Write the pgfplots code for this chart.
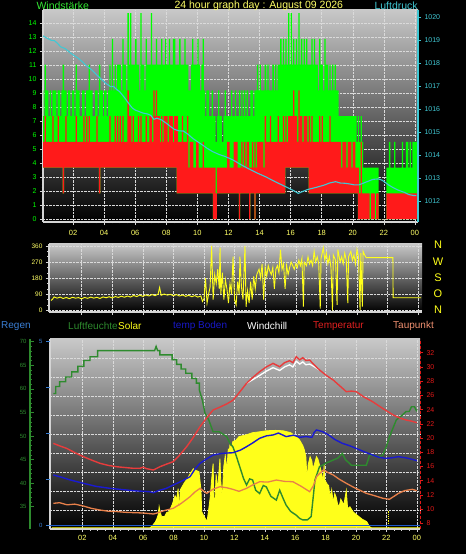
\documentclass[border=0pt]{standalone}
\usepackage{fontspec}
\setmainfont{Liberation Sans}
\usepackage{pgfplots}
\pgfplotsset{compat=1.18}
\usepgfplotslibrary{fillbetween}
\usepackage{pgfplotstable}
\pagecolor{black}

\definecolor{windg}{HTML}{00FF00}
\definecolor{windr}{HTML}{FF1A1A}
\definecolor{titleg}{HTML}{33E633}
\definecolor{press}{HTML}{40C8D4}
\definecolor{ttl}{HTML}{FFFF66}
\definecolor{dirc}{HTML}{FFFF1A}
\definecolor{humc}{HTML}{2E8B2E}
\definecolor{tempc}{HTML}{E83C3C}
\definecolor{bodenc}{HTML}{1A1AD0}
\definecolor{taupc}{HTML}{E8804A}
\definecolor{regenc}{HTML}{3A7FD5}
\definecolor{regenl}{HTML}{1E5AC8}
\definecolor{framec}{HTML}{D4D4D4}
\definecolor{gridc}{HTML}{DADADA}
\definecolor{bgtop}{HTML}{C8C8C8}
\definecolor{legtemp}{HTML}{E02020}
\definecolor{legtau}{HTML}{F09070}
\definecolor{legboden}{HTML}{1818C8}
\definecolor{templab}{HTML}{E01818}

\pgfplotsset{
  /pgf/number format/assume math mode=true,
  /pgf/number format/1000 sep={},
  base/.style={scale only axis, anchor=south west, tick align=outside,
    major tick length=3pt, minor tick length=1.5pt},
  bg/.style={axis background/.style={top color=bgtop, bottom color=black},
    grid=major, grid style={gridc, densely dotted, line width=0.4pt}},
}

% wind (5 min): t, speed min, speed max, gust max (km/h)
\pgfplotstableread{
t rn rx g
0.000 3.68 5.52 9.2
0.083 3.68 5.52 7.36
0.167 3.68 7.36 11.04
0.250 3.68 5.52 9.2
0.333 3.68 5.52 9.2
0.417 3.68 5.52 7.36
0.500 3.68 5.52 9.2
0.583 3.68 5.52 7.36
0.667 3.68 7.36 9.2
0.750 3.68 5.52 9.2
0.833 3.68 5.52 9.2
0.917 3.68 5.52 7.36
1.000 3.68 7.36 9.2
1.083 3.68 5.52 9.2
1.167 3.68 5.52 7.36
1.250 3.68 5.52 9.2
1.333 1.84 5.52 11.04
1.417 3.68 5.52 9.2
1.500 3.68 7.36 9.2
1.583 3.68 5.52 7.36
1.667 3.68 5.52 9.2
1.750 3.68 5.52 9.2
1.833 3.68 5.52 7.36
1.917 3.68 5.52 9.2
2.000 3.68 5.52 9.2
2.083 3.68 5.52 7.36
2.167 3.68 7.36 11.04
2.250 3.68 5.52 9.2
2.333 3.68 5.52 9.2
2.417 3.68 5.52 7.36
2.500 3.68 5.52 7.36
2.583 3.68 5.52 9.2
2.667 3.68 7.36 9.2
2.750 3.68 5.52 7.36
2.833 3.68 7.36 9.2
2.917 3.68 5.52 9.2
3.000 3.68 7.36 11.04
3.083 3.68 5.52 9.2
3.167 3.68 5.52 9.2
3.250 3.68 5.52 7.36
3.333 3.68 5.52 7.36
3.417 3.68 5.52 9.2
3.500 3.68 7.36 9.2
3.583 3.68 5.52 7.36
3.667 1.84 5.52 11.04
3.750 3.68 5.52 9.2
3.833 3.68 5.52 9.2
3.917 3.68 5.52 7.36
4.000 3.68 5.52 9.2
4.083 3.68 5.52 9.2
4.167 3.68 5.52 7.36
4.250 3.68 5.52 9.2
4.333 3.68 7.36 11.04
4.417 3.68 5.52 9.2
4.500 3.68 5.52 12.88
4.583 3.68 5.52 9.2
4.667 3.68 7.36 11.04
4.750 3.68 5.52 9.2
4.833 3.68 7.36 11.04
4.917 3.68 5.52 11.04
5.000 3.68 7.36 11.04
5.083 3.68 5.52 9.2
5.167 3.68 7.36 12.88
5.250 3.68 5.52 11.04
5.333 3.68 5.52 11.04
5.417 3.68 5.52 9.2
5.500 3.68 9.2 14.72
5.583 3.68 7.36 11.04
5.667 3.68 7.36 14.72
5.750 3.68 5.52 11.04
5.833 3.68 7.36 11.04
5.917 3.68 5.52 11.04
6.000 3.68 5.52 12.88
6.083 3.68 5.52 11.04
6.167 3.68 7.36 11.04
6.250 3.68 5.52 9.2
6.333 3.68 7.36 14.72
6.417 3.68 5.52 11.04
6.500 3.68 5.52 11.04
6.583 3.68 5.52 9.2
6.667 3.68 7.36 12.88
6.750 3.68 5.52 11.04
6.833 3.68 5.52 11.04
6.917 3.68 7.36 11.04
7.000 3.68 7.36 14.72
7.083 3.68 5.52 11.04
7.167 3.68 9.2 11.04
7.250 3.68 7.36 11.04
7.333 3.68 9.2 12.88
7.417 3.68 7.36 11.04
7.500 3.68 7.36 11.04
7.583 3.68 5.52 11.04
7.667 3.68 7.36 12.88
7.750 3.68 5.52 11.04
7.833 3.68 7.36 11.04
7.917 3.68 7.36 12.88
8.000 3.68 7.36 11.04
8.083 3.68 5.52 11.04
8.167 3.68 7.36 12.88
8.250 3.68 7.36 11.04
8.333 3.68 7.36 11.04
8.417 3.68 5.52 12.88
8.500 3.68 7.36 12.88
8.583 3.68 7.36 11.04
8.667 1.84 7.36 11.04
8.750 1.84 5.52 11.04
8.833 1.84 5.52 12.88
8.917 1.84 5.52 11.04
9.000 1.84 7.36 11.04
9.083 1.84 5.52 11.04
9.167 1.84 5.52 12.88
9.250 1.84 5.52 11.04
9.333 1.84 7.36 11.04
9.417 1.84 3.68 9.2
9.500 1.84 5.52 9.2
9.583 1.84 5.52 11.04
9.667 1.84 5.52 12.88
9.750 1.84 3.68 11.04
9.833 1.84 3.68 11.04
9.917 1.84 5.52 11.04
10.000 1.84 5.52 12.88
10.083 1.84 3.68 11.04
10.167 1.84 3.68 9.2
10.250 1.84 3.68 11.04
10.333 1.84 5.52 12.88
10.417 1.84 3.68 9.2
10.500 1.84 3.68 7.36
10.583 1.84 3.68 9.2
10.667 1.84 3.68 9.2
10.750 1.84 3.68 7.36
10.833 1.84 3.68 7.36
10.917 1.84 3.68 9.2
11.000 0 3.68 7.36
11.083 0 3.68 7.36
11.167 0 1.84 5.52
11.250 1.84 3.68 7.36
11.333 1.84 3.68 9.2
11.417 1.84 3.68 7.36
11.500 1.84 3.68 7.36
11.583 1.84 3.68 5.52
11.667 1.84 3.68 7.36
11.750 1.84 3.68 9.2
11.833 1.84 3.68 7.36
11.917 1.84 5.52 7.36
12.000 1.84 5.52 7.36
12.083 1.84 3.68 7.36
12.167 1.84 3.68 9.2
12.250 1.84 3.68 7.36
12.333 1.84 5.52 7.36
12.417 1.84 5.52 9.2
12.500 1.84 5.52 7.36
12.583 1.84 3.68 7.36
12.667 0 3.68 9.2
12.750 1.84 3.68 7.36
12.833 1.84 5.52 9.2
12.917 1.84 3.68 7.36
13.000 1.84 5.52 9.2
13.083 1.84 3.68 7.36
13.167 1.84 5.52 9.2
13.250 1.84 5.52 7.36
13.333 0 3.68 7.36
13.417 1.84 3.68 9.2
13.500 1.84 5.52 9.2
13.583 1.84 3.68 7.36
13.667 0 5.52 9.2
13.750 1.84 3.68 9.2
13.833 1.84 5.52 11.04
13.917 1.84 5.52 9.2
14.000 1.84 5.52 11.04
14.083 1.84 5.52 9.2
14.167 1.84 5.52 9.2
14.250 1.84 3.68 9.2
14.333 1.84 7.36 11.04
14.417 1.84 5.52 9.2
14.500 1.84 5.52 11.04
14.583 1.84 5.52 9.2
14.667 1.84 7.36 9.2
14.750 1.84 5.52 9.2
14.833 1.84 5.52 11.04
14.917 1.84 5.52 9.2
15.000 1.84 5.52 11.04
15.083 1.84 5.52 9.2
15.167 1.84 7.36 11.04
15.250 1.84 5.52 11.04
15.333 1.84 5.52 12.88
15.417 1.84 5.52 11.04
15.500 1.84 7.36 12.88
15.583 1.84 5.52 11.04
15.667 3.68 7.36 12.88
15.750 3.68 5.52 11.04
15.833 3.68 7.36 14.72
15.917 3.68 7.36 11.04
16.000 3.68 7.36 14.72
16.083 3.68 7.36 11.04
16.167 3.68 9.2 12.88
16.250 3.68 7.36 11.04
16.333 3.68 7.36 12.88
16.417 3.68 5.52 11.04
16.500 3.68 9.2 14.72
16.583 3.68 7.36 11.04
16.667 3.68 7.36 12.88
16.750 3.68 5.52 11.04
16.833 3.68 7.36 12.88
16.917 3.68 7.36 11.04
17.000 3.68 7.36 12.88
17.083 3.68 5.52 11.04
17.167 1.84 7.36 11.04
17.250 1.84 5.52 11.04
17.333 1.84 7.36 12.88
17.417 1.84 5.52 11.04
17.500 1.84 5.52 12.88
17.583 1.84 5.52 11.04
17.667 1.84 5.52 11.04
17.750 1.84 5.52 9.2
17.833 1.84 7.36 12.88
17.917 1.84 5.52 11.04
18.000 1.84 7.36 11.04
18.083 1.84 5.52 9.2
18.167 1.84 5.52 12.88
18.250 1.84 5.52 11.04
18.333 1.84 5.52 11.04
18.417 1.84 5.52 9.2
18.500 1.84 7.36 11.04
18.583 1.84 5.52 9.2
18.667 1.84 5.52 11.04
18.750 1.84 5.52 9.2
18.833 1.84 5.52 11.04
18.917 1.84 5.52 9.2
19.000 1.84 5.52 9.2
19.083 1.84 5.52 7.36
19.167 1.84 5.52 7.36
19.250 1.84 3.68 7.36
19.333 1.84 5.52 7.36
19.417 1.84 5.52 7.36
19.500 1.84 5.52 7.36
19.583 1.84 3.68 7.36
19.667 1.84 5.52 7.36
19.750 1.84 5.52 7.36
19.833 1.84 5.52 7.36
19.917 1.84 3.68 7.36
20.000 1.84 5.52 7.36
20.083 1.84 5.52 7.36
20.167 1.84 3.68 7.36
20.250 1.84 3.68 5.52
20.333 0 3.68 7.36
20.417 0 1.84 5.52
20.500 0 5.52 7.36
20.583 0 1.84 5.52
20.667 0 1.84 3.68
20.750 0 1.84 3.68
20.833 0 1.84 3.68
20.917 0 1.84 3.68
21.000 0 1.84 3.68
21.083 0 0 3.68
21.167 0 1.84 3.68
21.250 0 1.84 3.68
21.333 0 1.84 3.68
21.417 0 0 3.68
21.500 0 1.84 3.68
21.583 0 1.84 3.68
21.667 0 0 0
21.750 0 0 0
21.833 0 0 0
21.917 0 0 0
22.000 0 0 0
22.083 0 0 0
22.167 0 1.84 3.68
22.250 0 1.84 3.68
22.333 0 1.84 5.52
22.417 0 1.84 3.68
22.500 0 1.84 3.68
22.583 0 1.84 3.68
22.667 0 1.84 5.52
22.750 0 1.84 3.68
22.833 0 1.84 3.68
22.917 0 1.84 3.68
23.000 0 1.84 3.68
23.083 0 1.84 3.68
23.167 0 1.84 5.52
23.250 0 1.84 3.68
23.333 0 1.84 3.68
23.417 0 1.84 5.52
23.500 0 1.84 5.52
23.583 0 1.84 3.68
23.667 0 1.84 5.52
23.750 0 1.84 3.68
23.833 0 1.84 5.52
23.917 0 1.84 5.52
24.000 0 1.84 5.52
24.200 0 1.84 5.52
}\wind

\pgfplotstableread{
t p
0.0 1019.20
0.3 1019.08
0.6 1018.98
0.8 1018.97
1.0 1018.85
1.2 1018.70
1.5 1018.62
1.8 1018.45
2.0 1018.35
2.3 1018.22
2.6 1018.05
2.9 1017.85
3.2 1017.70
3.5 1017.50
3.8 1017.30
4.1 1017.12
4.4 1016.97
4.6 1016.98
4.8 1016.85
5.0 1016.75
5.3 1016.50
5.6 1016.22
5.8 1016.05
6.0 1015.95
6.2 1015.90
6.5 1015.82
6.8 1015.78
7.0 1015.72
7.2 1015.55
7.4 1015.60
7.7 1015.52
8.0 1015.38
8.3 1015.22
8.5 1015.12
8.8 1015.05
9.1 1015.04
9.4 1014.90
9.7 1014.72
10.0 1014.58
10.3 1014.45
10.6 1014.30
11.0 1014.14
11.4 1014.02
11.8 1013.93
12.3 1013.78
12.8 1013.58
13.3 1013.40
13.9 1013.20
14.4 1013.05
15.0 1012.84
15.5 1012.68
15.9 1012.55
16.2 1012.45
16.5 1012.33
16.8 1012.42
17.1 1012.50
17.4 1012.55
17.8 1012.62
18.2 1012.70
18.5 1012.78
18.9 1012.84
19.2 1012.78
19.5 1012.77
19.8 1012.74
20.1 1012.70
20.4 1012.70
20.7 1012.78
21.0 1012.86
21.3 1012.94
21.65 1012.96
21.9 1012.90
22.3 1012.70
22.6 1012.58
22.9 1012.48
23.3 1012.38
23.6 1012.28
23.9 1012.24
24.1 1012.23
}\pressure

\pgfplotstableread{
t d
0.00 55
0.10 62
0.20 75
0.40 68
0.60 74
0.80 66
1.00 72
1.20 65
1.40 73
1.60 68
1.80 71
2.00 64
2.20 72
2.40 67
2.60 74
2.80 68
3.00 73
3.20 66
3.40 75
3.60 70
3.80 76
4.00 69
4.20 77
4.40 72
4.60 79
4.80 73
5.00 80
5.20 74
5.40 83
5.60 77
5.80 85
6.00 78
6.20 86
6.40 80
6.60 88
6.80 82
7.00 90
7.10 128
7.20 84
7.40 91
7.60 85
7.80 89
8.00 82
8.20 88
8.40 80
8.60 86
8.80 78
9.00 84
9.20 76
9.40 82
9.60 74
9.80 80
9.90 50
10.00 65
10.10 180
10.20 40
10.30 90
10.40 130
10.50 360
10.60 60
10.70 200
10.80 150
10.90 230
11.00 120
11.05 350
11.10 90
11.20 210
11.30 60
11.40 170
11.50 120
11.60 40
11.70 150
11.80 90
11.90 300
12.00 60
12.10 30
12.20 160
12.30 90
12.35 300
12.45 130
12.55 60
12.68 360
12.75 20
12.85 110
12.95 40
13.05 160
13.15 60
13.25 190
13.35 120
13.45 200
13.60 230
13.70 180
13.80 260
13.90 60
14.00 240
14.10 190
14.20 250
14.30 220
14.40 200
14.50 240
14.60 120
14.70 230
14.80 250
14.90 210
15.00 340
15.10 230
15.20 260
15.30 120
15.40 250
15.50 200
15.60 240
15.70 270
15.80 250
15.90 230
16.00 260
16.10 240
16.20 280
16.30 250
16.40 290
16.50 20
16.55 270
16.70 250
16.80 300
16.90 260
17.00 280
17.10 250
17.20 330
17.30 270
17.40 300
17.50 260
17.60 10
17.65 290
17.80 350
17.90 280
18.00 320
18.10 260
18.20 300
18.30 240
18.40 0
18.45 310
18.60 280
18.70 30
18.75 340
18.90 270
19.00 300
19.10 260
19.20 320
19.30 280
19.40 40
19.45 300
19.60 330
19.70 280
19.80 310
19.90 260
20.00 340
20.10 300
20.20 0
20.25 320
20.35 20
20.40 330
20.50 310
20.60 295
22.35 295
22.36 70
24.20 70
}\direction

\begin{document}%
\begin{tikzpicture}
\path (0pt,0pt) rectangle (466pt,554pt);

% ---------------- top panel: wind ----------------
\begin{axis}[base, bg, at={(43pt,332pt)}, width=375pt, height=212pt,
  xmin=0.064, xmax=24.2, ymin=-0.21, ymax=14.95,
  axis x line*=bottom, axis y line*=left,
  axis line style={framec, line width=1.2pt},
  xtick={2,4,...,24}, xticklabels={02,04,06,08,10,12,14,16,18,20,22,00},
  minor x tick num=3,
  ytick={0,1,...,14}, minor y tick num=3,
  tick style={framec, line width=0.5pt},
  xticklabel style={ttl, font=\fontsize{7.5}{8}\selectfont, yshift=-2pt},
  yticklabel style={windg, font=\fontsize{7}{8}\selectfont},
  ]
  \addplot[name path=G, const plot, draw=none] table[x=t, y=g] {\wind};
  \addplot[name path=RN, const plot, draw=none] table[x=t, y=rn] {\wind};
  \addplot[name path=RX, const plot, draw=none] table[x=t, y=rx] {\wind};
  \addplot[fill=windg, draw=none] fill between[of=G and RN];
  \addplot[fill=windr, draw=none] fill between[of=RX and RN];
\end{axis}

\begin{axis}[base, at={(43pt,332pt)}, width=375pt, height=212pt,
  xmin=0.064, xmax=24.2, ymin=1011.087, ymax=1020.3,
  axis x line=none, axis y line*=right,
  axis line style={press, line width=1.2pt},
  ytick={1012,1013,...,1020}, minor y tick num=4,
  tick style={press, line width=0.5pt},
  yticklabel style={press, font=\fontsize{7}{8}\selectfont},
  ]
  \addplot[press, line width=1.1pt] table[x=t, y=p] {\pressure};
\end{axis}

% ---------------- middle panel: wind direction ----------------
\begin{axis}[base, bg, at={(49pt,242pt)}, width=373pt, height=68pt,
  xmin=-0.13, xmax=24.25, ymin=-9.5, ymax=371,
  axis x line*=bottom, axis y line*=left,
  axis line style={framec, line width=1.2pt},
  xtick={2,4,...,24}, xticklabels={},
  ytick={0,90,180,270,360}, minor y tick num=2,
  tick style={framec, line width=0.5pt},
  yticklabel style={ttl, font=\fontsize{6.5}{7}\selectfont},
  ]
  \addplot[dirc, line width=0.9pt] table[x=t, y=d] {\direction};
\end{axis}

% ---------------- bottom panel ----------------
% background, grid, solar
\begin{axis}[base, bg, at={(50pt,25pt)}, width=370pt, height=190pt,
  xmin=-0.13, xmax=24.21, ymin=-7, ymax=993,
  axis x line*=bottom, axis y line*=left,
  axis line style={framec, line width=1.2pt},
  xtick={2,4,...,24}, xticklabels={02,04,06,08,10,12,14,16,18,20,22,00},
  minor x tick num=3,
  ytick={93,193,...,893}, yticklabels={}, ytick style={draw=none},
  tick style={framec, line width=0.5pt},
  xticklabel style={ttl, font=\fontsize{7.5}{8}\selectfont},
  ]
  \addplot[draw=dirc, fill=dirc, line width=0.8pt] table {
t s
0 0
6.45 0
6.6 10
6.8 30
6.9 47
7.0 70
7.05 110
7.1 89
7.2 60
7.4 58
7.55 80
7.7 84
7.9 120
8.1 168
8.2 150
8.3 205
8.35 90
8.45 200
8.7 235
8.9 258
9.1 285
9.3 310
9.5 300
9.67 295
9.8 200
9.85 84
10.0 60
10.2 32
10.3 90
10.4 153
10.5 250
10.6 337
10.65 150
10.7 100
10.8 280
10.9 200
11.05 363
11.1 250
11.2 153
11.3 320
11.4 380
11.5 300
11.6 416
11.65 380
11.7 432
11.8 420
11.9 453
12.1 460
12.3 479
12.8 489
13.2 500
13.7 505
14.1 510
14.7 512
15.2 510
15.7 500
16.07 479
16.3 460
16.5 432
16.6 410
16.7 374
16.75 300
16.8 250
16.85 330
16.98 374
17.1 350
17.15 310
17.25 330
17.4 374
17.5 360
17.7 300
17.85 242
17.9 330
17.95 250
18.1 230
18.2 221
18.3 160
18.4 200
18.5 130
18.6 180
18.7 160
18.8 120
18.9 116
19.0 150
19.2 120
19.36 195
19.45 100
19.6 110
19.8 84
20.0 70
20.2 58
20.4 45
20.7 32
20.9 5
21.0 0
24.2 0
  } \closedcycle;
  \addplot[dirc, densely dotted, line width=0.8pt] coordinates {(22.1,0) (22.1,90)};
\end{axis}

% humidity data (hidden axis)
\begin{axis}[base, at={(50pt,25pt)}, width=370pt, height=190pt,
  xmin=-0.13, xmax=24.21, ymin=30.27, ymax=70.57, hide axis]
  \addplot[humc, line width=1.4pt] table {
t h
0.09 59.0
0.25 59.0
0.25 60.5
0.5 60.5
0.5 61.5
0.9 61.5
0.9 62.5
1.3 62.5
1.3 63.6
1.7 63.6
1.7 64.8
2.1 64.8
2.1 66.0
2.5 66.0
2.5 66.8
3.0 66.8
3.0 68.1
6.75 68.1
6.85 69.0
6.95 68.1
7.1 68.1
7.1 67.2
7.9 67.2
7.9 66.2
8.2 66.2
8.2 65.2
8.5 65.2
8.5 64.2
8.8 64.2
8.8 63.3
9.2 63.3
9.2 62.2
9.5 62.2
9.5 61.2
9.7 61.2
9.7 59.7
9.9 57.5
10.07 54.8
10.3 53.5
10.6 50.9
11.0 50.9
11.5 49.85
11.7 48.5
11.9 47.7
12.1 46.0
12.35 43.5
12.6 41.0
12.8 39.6
13.0 40.9
13.2 40.67
13.4 38.5
13.66 37.8
13.9 39.5
14.1 39.2
14.4 37.2
14.76 36.4
14.98 38.5
15.2 36.8
15.4 35.35
15.7 34.0
16.07 33.2
16.3 32.5
16.5 32.2
16.8 32.2
17.05 32.9
17.2 37.5
17.3 40.67
17.6 43.5
17.8 43.8
18.07 44.3
18.5 44.9
18.8 45.3
19.1 46.3
19.3 45.0
19.7 43.8
20.68 43.8
20.9 46.0
21.55 45.6
21.77 46.0
22.0 47.8
22.2 49.85
22.45 51.8
22.65 53.4
23.0 54.3
23.3 55.2
23.5 55.2
23.65 56.2
23.85 56.2
24.0 55.2
  };
\end{axis}

% humidity axis decoration (left, green)
\begin{axis}[base, at={(30pt,25pt)}, width=1pt, height=190pt,
  xmin=0, xmax=1, ymin=30.27, ymax=70.57,
  axis x line=none, axis y line*=left,
  axis line style={humc, line width=1.6pt},
  ytick={35,40,...,70}, minor y tick num=4, tick align=inside,
  major tick length=4pt, minor tick length=2pt,
  tick style={humc, line width=0.6pt},
  yticklabel style={humc, font=\fontsize{6}{7}\selectfont},
  ]
\end{axis}

% rain axis (left, blue)
\begin{axis}[base, at={(50pt,25pt)}, width=370pt, height=190pt,
  xmin=-0.13, xmax=24.21, ymin=-0.09, ymax=5.07,
  axis x line=none, axis y line*=left,
  y axis line style={draw=none},
  ytick={0,1.25,2.5,3.75,5}, yticklabels={0,,,,5},
  major tick length=4pt,
  tick style={regenc, line width=0.6pt},
  yticklabel style={regenc, font=\fontsize{6}{7}\selectfont},
  ]
  \addplot[regenl, line width=1pt] coordinates {(-0.13,0) (24.21,0)};
\end{axis}

% temperatures (right, red)
\begin{axis}[base, at={(50pt,25pt)}, width=370pt, height=190pt,
  xmin=-0.13, xmax=24.21, ymin=7.2, ymax=33.93,
  axis x line=none, axis y line*=right,
  axis line style={templab, densely dashed, line width=1pt},
  ytick={8,10,...,34},
  major tick length=3pt,
  tick style={templab, line width=0.5pt},
  yticklabel style={templab, font=\fontsize{7}{8}\selectfont},
  ]
  % Taupunkt
  \addplot[taupc, line width=1.3pt] table {
t d
0.09 10.81
0.5 10.9
1.0 10.6
1.5 10.7
2.07 10.43
2.6 10.1
3.16 9.87
3.7 9.7
4.3 9.65
4.8 9.55
5.36 9.5
6.0 9.45
6.67 9.31
7.0 9.5
7.4 9.8
7.98 10.11
8.5 10.8
9.08 11.74
9.4 12.4
9.74 12.92
10.0 12.5
10.18 12.22
10.6 12.8
11.05 13.15
11.5 13.0
11.9 12.78
12.3 12.5
12.8 12.92
13.2 13.4
13.66 13.85
14.2 13.8
14.76 14.09
15.3 13.9
15.85 13.85
16.4 13.2
16.95 12.45
17.2 13.3
17.4 14.56
17.84 15.5
18.2 15.1
18.5 14.8
18.9 14.2
19.36 13.63
19.9 13.0
20.3 12.6
20.68 12.22
21.2 11.9
21.77 11.52
22.2 11.38
22.5 11.8
22.8 12.22
23.2 12.6
23.7 12.78
24.0 12.59
  };
  % temp Boden
  \addplot[bodenc, line width=1.4pt] table {
t b
0.09 14.8
0.6 14.5
1.2 14.1
2.07 13.63
2.9 13.2
3.82 12.92
4.6 12.75
5.36 12.59
6.0 12.5
6.4 12.45
6.67 12.31
7.0 12.6
7.5 12.9
7.98 13.39
8.5 13.9
9.08 14.56
9.4 15.6
9.74 16.44
10.2 17.1
10.6 17.6
11.2 17.85
11.9 17.93
12.4 18.3
12.8 18.78
13.2 19.3
13.66 19.96
14.1 20.3
14.54 20.43
14.9 20.7
15.4 20.2
15.9 20.4
16.3 20.1
16.7 20.2
17.1 20.1
17.25 20.8
17.4 21.13
17.8 20.9
18.2 20.43
18.6 19.8
19.1 19.25
19.6 18.9
20.0 18.55
20.5 18.1
21.1 17.6
21.5 17.3
21.9 17.14
22.3 17.2
22.8 17.37
23.3 17.2
23.7 17.0
24.0 16.81
  };
  % Windchill
  \addplot[white, line width=1.3pt] table {
t w
12.8 27.7
13.2 28.2
13.66 28.8
14.1 29.4
14.54 29.9
14.98 29.5
15.3 30.0
15.63 30.3
15.85 30.0
16.07 30.8
16.3 30.4
16.5 30.7
16.7 30.3
16.95 30.4
17.2 30.1
17.6 29.57
  };
  % Temperatur
  \addplot[tempc, line width=1.4pt] table {
t T
0.09 19.25
0.5 18.9
0.96 18.55
1.5 17.95
2.07 17.37
2.6 16.9
3.16 16.44
3.7 16.15
4.25 15.96
4.8 15.85
5.3 15.75
5.79 15.74
6.0 15.9
6.2 15.7
6.67 15.5
7.1 15.96
7.5 16.3
7.98 16.67
8.4 17.6
8.86 18.78
9.3 20.1
9.74 21.6
10.2 22.9
10.6 23.94
11.0 24.3
11.5 24.8
11.9 25.3
12.4 26.6
12.8 27.7
13.2 28.5
13.66 29.33
14.1 30.0
14.54 30.5
14.98 30.03
15.3 30.6
15.63 30.88
15.85 30.6
16.07 31.44
16.3 31.0
16.5 31.3
16.7 30.9
16.95 30.97
17.2 30.4
17.6 29.57
18.05 28.8
18.5 28.16
18.9 27.4
19.36 26.52
19.7 26.6
20.02 26.52
20.5 25.8
21.1 25.1
21.8 24.1
22.45 23.24
22.9 22.8
23.3 22.53
23.7 22.35
24.0 22.15
  };
\end{axis}

% ---------------- texts ----------------
\node[anchor=west, text=titleg, font=\fontsize{10.5}{12}\selectfont] at (33pt,548pt) {Windstärke};
\node[anchor=west, text=ttl, font=\fontsize{10.5}{12}\selectfont] at (171pt,548pt) {24 hour graph day : August 09 2026};
\node[anchor=west, text=press, font=\fontsize{10.5}{12}\selectfont] at (371pt,548pt) {Luftdruck};

\foreach \l/\yy in {N/309, W/292.5, S/276, O/260, N/244}
  \node[text=dirc, font=\fontsize{11}{12}\selectfont] at (438pt,\yy pt) {\l};

\node[anchor=west, inner sep=0pt, text=regenc, font=\fontsize{10}{12}\selectfont] at (1pt,228pt) {Regen};
\node[anchor=west, inner sep=0pt, text=humc, font=\fontsize{10}{12}\selectfont] at (68pt,228pt) {Luftfeuchte};
\node[anchor=west, inner sep=0pt, text=dirc, font=\fontsize{10}{12}\selectfont] at (118pt,228pt) {Solar};
\node[anchor=west, inner sep=0pt, text=legboden, font=\fontsize{10}{12}\selectfont] at (173pt,228pt) {temp Boden};
\node[anchor=west, inner sep=0pt, text=white, font=\fontsize{10}{12}\selectfont] at (247pt,228pt) {Windchill};
\node[anchor=west, inner sep=0pt, text=legtemp, font=\fontsize{10}{12}\selectfont] at (313pt,228pt) {Temperatur};
\node[anchor=west, inner sep=0pt, text=legtau, font=\fontsize{10}{12}\selectfont] at (393pt,228pt) {Taupunkt};

\pgfresetboundingbox
\path[use as bounding box] (0pt,0pt) rectangle (466pt,554pt);
\end{tikzpicture}%
\end{document}
